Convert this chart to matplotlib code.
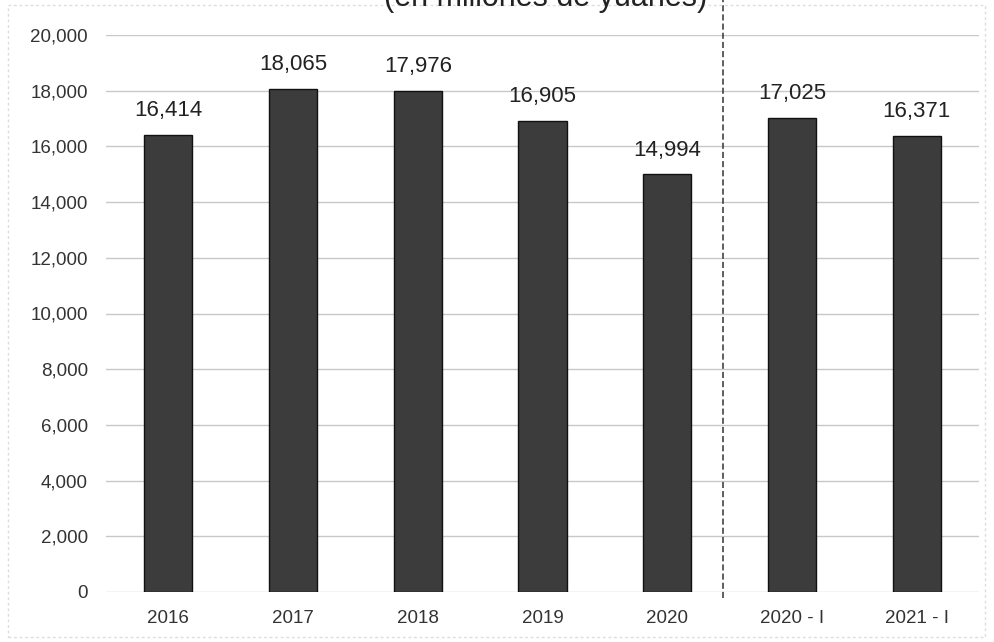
import matplotlib
matplotlib.use("Agg")
import matplotlib.pyplot as plt
from matplotlib.ticker import FuncFormatter, MultipleLocator
from matplotlib.patches import Rectangle

categories = ["2016", "2017", "2018", "2019", "2020", "2020 - I", "2021 - I"]
values = [16414, 18065, 17976, 16905, 14994, 17025, 16371]
title = "(en millones de yuanes)"

plt.rcParams['font.family'] = ['Liberation Sans', 'DejaVu Sans']

fig = plt.figure(figsize=(9.95, 6.42), dpi=100)
ax = fig.add_axes([106/995, 1-592/642, (979-106)/995, (592-35)/642])

x = list(range(len(categories)))
ax.bar(x, values, width=0.385, color='#3c3c3c', edgecolor='#111111', linewidth=1.0, zorder=3)
for xi, v in zip(x, values):
    ax.annotate(f"{v:,}", (xi, v), xytext=(0, 10), textcoords='offset points',
                ha='center', va='bottom', fontsize=16, color='#222222')

ax.set_xlim(-0.5, len(categories)-0.5)
ax.set_ylim(0, 20000)
ax.yaxis.set_major_locator(MultipleLocator(2000))
ax.yaxis.set_major_formatter(FuncFormatter(lambda v, p: f"{int(v):,}"))
ax.set_xticks(x)
ax.set_xticklabels(categories)
ax.grid(axis='y', color='#c8c8c8', linewidth=1.0, zorder=0)
for s in ax.spines.values():
    s.set_visible(False)
ax.tick_params(axis='both', length=0, labelsize=13.5, colors='#333333')
ax.tick_params(axis='y', pad=13)
ax.tick_params(axis='x', pad=13)

# dashed divider between annual and quarterly data
ax.axvline(4.45, ymin=-0.01, ymax=1.07, color='#333333', linestyle=(0, (4, 2)),
           linewidth=1.1, clip_on=False, zorder=4)

fig.text(0.548, 1 - 6/642, title, ha='center', va='baseline', fontsize=22, color='#222222')

# faint outer frame
fig.patches.append(Rectangle((8/995, 5/642), 977/995, 632/642, transform=fig.transFigure,
                             fill=False, edgecolor='#dddddd', linewidth=1.0, linestyle=(0, (2, 2))))

fig.savefig("out.png", dpi=100)
